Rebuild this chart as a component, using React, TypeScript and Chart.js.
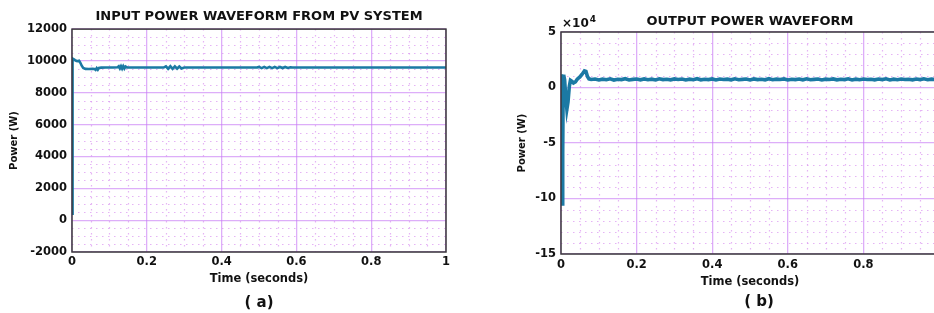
import React, { useEffect, useRef } from "react";
import { Chart, registerables } from "chart.js";

Chart.register(...registerables);

// ---------- DATA ----------
const leftTitle = "INPUT POWER WAVEFORM FROM PV SYSTEM";
const rightTitle = "OUTPUT POWER WAVEFORM";
const xAxisTitle = "Time (seconds)";
const yAxisTitle = "Power (W)";
const leftCaption = "( a)";
const rightCaption = "( b)";

const leftTime = [
  0, 0.0015, 0.004, 0.008, 0.012, 0.016, 0.019, 0.022, 0.026, 0.03, 0.036, 0.045, 0.055, 0.06, 0.063,
  0.066, 0.069, 0.072, 0.078, 0.09, 0.11, 0.122, 0.125, 0.128, 0.131, 0.134, 0.137, 0.14, 0.143, 0.147,
  0.2, 0.245, 0.251, 0.257, 0.263, 0.269, 0.275, 0.281, 0.287, 0.293, 0.3,
  0.4, 0.495, 0.5, 0.507, 0.514, 0.521, 0.528, 0.535, 0.542, 0.549, 0.556, 0.563, 0.57, 0.577, 0.584,
  0.59, 0.7, 0.8, 0.9, 1.0,
];
const leftPower = [
  400, 10150, 10120, 10050, 10000, 9990, 10010, 9900, 9700, 9560, 9500, 9490, 9500, 9490, 9440,
  9550, 9450, 9560, 9580, 9590, 9590, 9600, 9660, 9530, 9670, 9520, 9670, 9530, 9650, 9590,
  9585, 9585, 9660, 9510, 9665, 9505, 9660, 9510, 9650, 9530, 9585,
  9585, 9585, 9625, 9550, 9625, 9550, 9625, 9550, 9625, 9550, 9620, 9555, 9620, 9560, 9605,
  9585, 9585, 9585, 9585, 9585,
];

const rightTime = [
  0, 0.001, 0.002, 0.003, 0.0045, 0.0055, 0.007, 0.0095, 0.012, 0.0155, 0.0185, 0.022, 0.025, 0.029,
  0.033, 0.038, 0.043, 0.05, 0.056, 0.062, 0.066, 0.07, 0.074, 0.08,
  0.09, 0.1, 0.11, 0.12, 0.13, 0.14, 0.15, 0.16, 0.17, 0.18, 0.19, 0.2, 0.21, 0.22, 0.23, 0.24,
  0.25, 0.26, 0.27, 0.28, 0.29, 0.3, 0.31, 0.32, 0.33, 0.34, 0.35, 0.36, 0.37, 0.38, 0.39, 0.4,
  0.41, 0.42, 0.43, 0.44, 0.45, 0.46, 0.47, 0.48, 0.49, 0.5, 0.51, 0.52, 0.53, 0.54, 0.55, 0.56,
  0.57, 0.58, 0.59, 0.6, 0.61, 0.62, 0.63, 0.64, 0.65, 0.66, 0.67, 0.68, 0.69, 0.7, 0.71, 0.72,
  0.73, 0.74, 0.75, 0.76, 0.77, 0.78, 0.79, 0.8, 0.81, 0.82, 0.83, 0.84, 0.85, 0.86, 0.87, 0.88,
  0.89, 0.9, 0.91, 0.92, 0.93, 0.94, 0.95, 0.96, 0.97, 0.98, 0.99, 1.0,
];
const rightPower = [
  8000, 12000, -40000, -105000, -60000, -10000, 11500, 7000, -6000, -19500, -13000, 1000, 6500, 5500,
  4000, 5000, 7500, 9500, 12000, 15000, 14500, 10000, 7800, 7200,
  7600, 6800, 7500, 7000, 7800, 6700, 7400, 7100, 7900, 6800, 7300, 7600, 6900, 7700, 7000, 7500,
  6800, 7800, 7100, 7400, 6900, 7700, 7200, 7600, 6800, 7500, 7000, 7900, 6900, 7400, 7100, 7700,
  6800, 7600, 7200, 7500, 6900, 7800, 7000, 7300, 7600, 6800, 7700, 7100, 7400, 6900, 7900, 7000,
  7500, 7200, 7700, 6800, 7400, 7100, 7600, 6900, 7800, 7000, 7300, 7600, 6800, 7500, 7200, 7700,
  6900, 7400, 7100, 7800, 6800, 7500, 7000, 7700, 7200, 7400, 6900, 7600, 7100, 7800, 6800, 7500,
  7000, 7700, 7200, 7400, 6900, 7600, 7100, 7800, 7000, 7500, 7200, 7400,
];

const xRange = [0, 1];
const xStep = 0.2;
const leftYRange = [-2000, 12000];
const leftYStep = 2000;
const rightYRange = [-150000, 50000];
const rightYStep = 50000;
const rightExponent = "×10";
const rightExponentPower = "4";

// ---------- STYLE ----------
const FONT = "'DejaVu Sans', 'Verdana', sans-serif";
const LINE_COLOR = "#1b79a4";
const MAJOR_GRID = "rgba(200,125,245,0.62)";
const MINOR_GRID = "rgba(215,140,240,0.65)";
const BOX_COLOR = "#3a3a3a";

const minorGridPlugin = {
  id: "minorGrid",
  beforeDatasetsDraw(chart: any, _a: any, opts: any) {
    const { ctx, chartArea: a, scales } = chart;
    const xs = scales.x;
    const ys = scales.y;
    ctx.save();
    ctx.beginPath();
    ctx.rect(a.left, a.top, a.right - a.left, a.bottom - a.top);
    ctx.clip();
    ctx.strokeStyle = opts.color;
    ctx.lineWidth = 1.2;
    ctx.setLineDash([1.5, 4.5]);
    const nx = Math.round((xs.max - xs.min) / opts.xMinor);
    for (let i = 0; i <= nx; i++) {
      if (i % opts.xEvery === 0) continue;
      const px = Math.round(xs.getPixelForValue(xs.min + i * opts.xMinor)) + 0.5;
      ctx.beginPath();
      ctx.moveTo(px, a.top);
      ctx.lineTo(px, a.bottom);
      ctx.stroke();
    }
    const ny = Math.round((ys.max - ys.min) / opts.yMinor);
    for (let i = 0; i <= ny; i++) {
      if (i % opts.yEvery === 0) continue;
      const py = Math.round(ys.getPixelForValue(ys.min + i * opts.yMinor)) + 0.5;
      ctx.beginPath();
      ctx.moveTo(a.left, py);
      ctx.lineTo(a.right, py);
      ctx.stroke();
    }
    ctx.restore();
  },
  afterDatasetsDraw(chart: any) {
    const { ctx, chartArea: a } = chart;
    ctx.save();
    ctx.strokeStyle = BOX_COLOR;
    ctx.lineWidth = 1.5;
    ctx.strokeRect(a.left, a.top, a.right - a.left, a.bottom - a.top);
    ctx.restore();
  },
};

const captionPlugin = {
  id: "caption",
  afterDraw(chart: any, _a: any, opts: any) {
    const { ctx, chartArea: a } = chart;
    ctx.save();
    ctx.fillStyle = "#111";
    ctx.textAlign = "center";
    ctx.textBaseline = "middle";
    ctx.font = `bold 15px ${FONT}`;
    ctx.fillText(opts.text, (a.left + a.right) / 2 + opts.dx, opts.y);
    if (opts.exp) {
      ctx.textAlign = "left";
      ctx.textBaseline = "alphabetic";
      ctx.font = `bold 12px ${FONT}`;
      const x0 = a.left + 1;
      ctx.fillText(opts.exp, x0, a.top - 5.5);
      const w = ctx.measureText(opts.exp).width;
      ctx.font = `bold 9px ${FONT}`;
      ctx.fillText(opts.expPow, x0 + w + 1, a.top - 10);
    }
    ctx.restore();
  },
};

type PanelSpec = {
  title: string;
  titlePad: { top: number; bottom: number };
  time: number[];
  power: number[];
  yRange: number[];
  yStep: number;
  yFmt: (v: number) => string;
  yMinor: number;
  yEvery: number;
  yAxisWidth: number;
  yTitlePad: number;
  yTickPad: number;
  xAxisHeight: number;
  xTickPad: number;
  xTitlePad: number;
  padRight: number;
  lineWidth: number;
  caption: string;
  captionDx: number;
  captionY: number;
  exp?: string;
  expPow?: string;
};

function buildConfig(s: PanelSpec): any {
  const tickFont = { family: FONT, weight: "bold" as const, size: 11.5 };
  return {
    type: "line",
    data: {
      datasets: [
        {
          data: s.time.map((t, i) => ({ x: t, y: s.power[i] })),
          borderColor: LINE_COLOR,
          borderWidth: s.lineWidth,
          pointRadius: 0,
          tension: 0,
          fill: false,
        },
      ],
    },
    plugins: [minorGridPlugin, captionPlugin],
    options: {
      animation: false,
      responsive: false,
      maintainAspectRatio: false,
      layout: { padding: { left: 0, right: s.padRight, top: 0, bottom: 0 } },
      plugins: {
        legend: { display: false },
        tooltip: { enabled: false },
        title: {
          display: true,
          text: s.title,
          fullSize: false,
          color: "#111",
          font: { family: FONT, weight: "bold", size: 13 },
          padding: s.titlePad,
        },
        minorGrid: { color: MINOR_GRID, xMinor: 0.05, xEvery: 4, yMinor: s.yMinor, yEvery: s.yEvery },
        caption: { text: s.caption, dx: s.captionDx, y: s.captionY, exp: s.exp, expPow: s.expPow },
      },
      scales: {
        x: {
          type: "linear",
          min: xRange[0],
          max: xRange[1],
          afterFit: (sc: any) => {
            sc.height = s.xAxisHeight;
          },
          ticks: {
            stepSize: xStep,
            color: "#111",
            font: tickFont,
            padding: s.xTickPad,
            maxRotation: 0,
            autoSkip: false,
            callback: (v: number) => String(Math.round(v * 10) / 10),
          },
          grid: { color: MAJOR_GRID, lineWidth: 1.3, drawTicks: false },
          border: { display: false },
          title: {
            display: true,
            text: xAxisTitle,
            color: "#111",
            font: { family: FONT, weight: "bold", size: 11.5 },
            padding: { top: 0, bottom: s.xTitlePad },
          },
        },
        y: {
          type: "linear",
          min: s.yRange[0],
          max: s.yRange[1],
          afterFit: (sc: any) => {
            sc.width = s.yAxisWidth;
          },
          ticks: {
            stepSize: s.yStep,
            color: "#111",
            font: tickFont,
            padding: s.yTickPad,
            callback: (v: number) => s.yFmt(v),
          },
          grid: { color: MAJOR_GRID, lineWidth: 1.3, drawTicks: false },
          border: { display: false },
          title: {
            display: true,
            text: yAxisTitle,
            color: "#111",
            font: { family: FONT, weight: "bold", size: 10 },
            padding: { top: s.yTitlePad, bottom: 0 },
          },
        },
      },
    },
  };
}

const leftSpec: PanelSpec = {
  title: leftTitle,
  titlePad: { top: 9, bottom: 4.5 },
  time: leftTime,
  power: leftPower,
  yRange: leftYRange,
  yStep: leftYStep,
  yFmt: (v) => String(v),
  yMinor: 500,
  yEvery: 4,
  yAxisWidth: 72,
  yTitlePad: 8,
  yTickPad: 5,
  xAxisHeight: 61,
  xTickPad: 3.5,
  xTitlePad: 27,
  padRight: 24,
  lineWidth: 2.6,
  caption: leftCaption,
  captionDx: 0,
  captionY: 303,
};

const rightSpec: PanelSpec = {
  title: rightTitle,
  titlePad: { top: 14, bottom: 2.4 },
  time: rightTime,
  power: rightPower,
  yRange: rightYRange,
  yStep: rightYStep,
  yFmt: (v) => String(v / 10000),
  yMinor: 10000,
  yEvery: 5,
  yAxisWidth: 91,
  yTitlePad: 46,
  yTickPad: 5,
  xAxisHeight: 59,
  xTickPad: 4.5,
  xTitlePad: 24,
  padRight: 11,
  lineWidth: 3.6,
  caption: rightCaption,
  captionDx: 9,
  captionY: 302,
  exp: rightExponent,
  expPow: rightExponentPower,
};

function Panel({ spec, left, width }: { spec: PanelSpec; left: number; width: number }) {
  const ref = useRef<HTMLCanvasElement | null>(null);
  useEffect(() => {
    if (!ref.current) return;
    const chart = new Chart(ref.current, buildConfig(spec));
    return () => chart.destroy();
  }, [spec]);
  return (
    <canvas
      ref={ref}
      width={width}
      height={313}
      style={{ position: "absolute", left, top: 0, width, height: 313 }}
    />
  );
}

export default function App() {
  return (
    <div
      style={{
        position: "fixed",
        left: 0,
        top: 0,
        width: 934,
        height: 313,
        overflow: "hidden",
        background: "#fff",
      }}
    >
      <Panel spec={leftSpec} left={0} width={470} />
      <Panel spec={rightSpec} left={470} width={480} />
    </div>
  );
}
